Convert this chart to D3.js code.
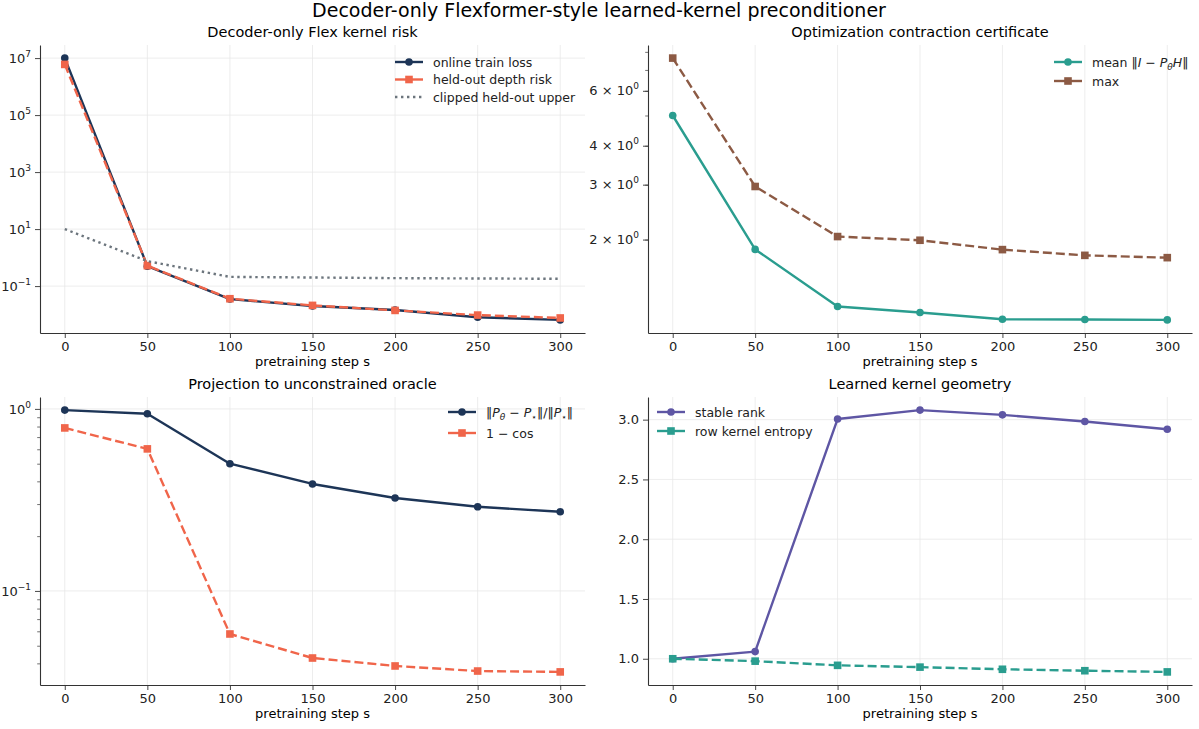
<!DOCTYPE html>
<html>
<head>
<meta charset="utf-8">
<script src="https://cdn.jsdelivr.net/npm/d3@7"></script>
<style>
  body { margin: 0; background: #fff; }
  svg { font-family: "DejaVu Sans", sans-serif; }
</style>
</head>
<body>
<div id="chart"></div>
<script>
// values
const steps = [0, 50, 100, 150, 200, 250, 300];
const trainLoss = [1.0e7, 0.50, 0.035, 0.020, 0.0145, 0.0081, 0.0065];
const heldOutRisk = [6.0e6, 0.52, 0.036, 0.021, 0.014, 0.0096, 0.0076];
const clippedUpper = [10, 0.75, 0.21, 0.20, 0.19, 0.185, 0.18];
const meanContraction = [5.0, 1.86, 1.22, 1.167, 1.11, 1.108, 1.105];
const maxContraction = [7.64, 2.96, 2.045, 1.99, 1.857, 1.78, 1.75];
const projRelErr = [0.985, 0.94, 0.50, 0.387, 0.324, 0.29, 0.272];
const oneMinusCos = [0.786, 0.603, 0.058, 0.0428, 0.0387, 0.0363, 0.0359];
const stableRank = [1.0, 1.06, 3.005, 3.08, 3.04, 2.985, 2.92];
const rowEntropy = [1.0, 0.98, 0.945, 0.93, 0.912, 0.90, 0.89];

const riskTicks = [1e-1, 1e1, 1e3, 1e5, 1e7];
const contractionTicks = [2, 3, 4, 6];
const contractionMinor = [2, 3, 4, 5, 6, 7, 8, 9];
const projTicks = [0.1, 1];
const projMinor = [0.02, 0.03, 0.04, 0.05, 0.06, 0.07, 0.08, 0.09, 0.2, 0.3, 0.4, 0.5, 0.6, 0.7, 0.8, 0.9];
const geomTicks = [1.0, 1.5, 2.0, 2.5, 3.0];

const navy = '#1d3557', coral = '#f0654a', grey = '#6c757d',
      teal = '#2a9d8f', brown = '#8c5a44', purple = '#5e56a4';
const dashed = '9,4';

const W = 1199, H = 729;
const svg = d3.select('#chart').append('svg').attr('width', W).attr('height', H);

svg.append('text')
  .attr('x', 599).attr('y', 17)
  .attr('text-anchor', 'middle')
  .style('font-size', '19px')
  .text('Decoder-only Flexformer-style learned-kernel preconditioner');

function pow10Label(sel, v) {
  const e = Math.round(Math.log10(v));
  sel.text('10');
  sel.append('tspan').attr('dy', -6).style('font-size', '9px')
    .text(String(e).replace('-', '\u2212'));
}
function multLabel(sel, v) {
  sel.text(v + ' \u00d7 10');
  sel.append('tspan').attr('dy', -6).style('font-size', '9px').text('0');
}

function panel(opt) {
  const g = svg.append('g').attr('transform', `translate(${opt.x},${opt.y})`);
  const w = opt.w, h = opt.h;

  const x = d3.scaleLinear().domain([-15, 315]).range([0, w]);
  const all = opt.series.flatMap(s => s.values);
  let y;
  if (opt.log) {
    const lo = Math.log10(d3.min(all)), hi = Math.log10(d3.max(all));
    const pad = (hi - lo) * 0.05;
    y = d3.scaleLog().domain([10 ** (lo - pad), 10 ** (hi + pad)]).range([h, 0]);
  } else {
    const [lo, hi] = d3.extent(all);
    const pad = (hi - lo) * 0.05;
    y = d3.scaleLinear().domain([lo - pad, hi + pad]).range([h, 0]);
  }

  // grid
  g.selectAll('.vgrid').data(steps).enter().append('line')
    .attr('x1', d => x(d)).attr('x2', d => x(d))
    .attr('y1', 0).attr('y2', h)
    .attr('stroke', '#e8e8e8').attr('stroke-width', 0.8);
  g.selectAll('.hgrid').data(opt.gridTicks).enter().append('line')
    .attr('x1', 0).attr('x2', w)
    .attr('y1', d => y(d)).attr('y2', d => y(d))
    .attr('stroke', '#e8e8e8').attr('stroke-width', 0.8);

  // axes
  const xAxis = g.append('g').attr('transform', `translate(0,${h})`)
    .call(d3.axisBottom(x).tickValues(steps).tickSize(5).tickSizeOuter(0).tickPadding(4).tickFormat(d3.format('d')));
  const yAxis = g.append('g')
    .call(d3.axisLeft(y).tickValues(opt.yTicks).tickSize(5).tickSizeOuter(0).tickPadding(4).tickFormat(''));
  if (opt.minor) {
    g.append('g').call(d3.axisLeft(y).tickValues(opt.minor.filter(v => y(v) >= 0 && y(v) <= h)).tickSize(2.8).tickSizeOuter(0).tickFormat(''))
      .call(a => a.select('.domain').remove())
      .selectAll('line').attr('stroke', '#333').attr('stroke-width', 0.7);
  }
  [xAxis, yAxis].forEach(a => {
    a.select('.domain').attr('stroke', '#333').attr('stroke-width', 1.1);
    a.selectAll('.tick line').attr('stroke', '#333').attr('stroke-width', 0.9);
    a.selectAll('text').style('font-size', '13px').attr('fill', '#222')
      .style('font-family', '"DejaVu Sans", sans-serif');
  });
  yAxis.selectAll('.tick text').each(function (d) {
    const t = d3.select(this);
    if (opt.labelFn) opt.labelFn(t, d); else t.text(opt.fmt(d));
  });

  g.append('text').attr('x', w / 2).attr('y', -8).attr('text-anchor', 'middle')
    .style('font-size', '14.5px').text(opt.title);
  g.append('text').attr('x', w / 2).attr('y', h + 33).attr('text-anchor', 'middle')
    .style('font-size', '13px').text('pretraining step s');

  const line = d3.line().x((d, i) => x(steps[i])).y(d => y(d));
  opt.series.forEach(s => {
    g.append('path').datum(s.values)
      .attr('d', line).attr('fill', 'none')
      .attr('stroke', s.color).attr('stroke-width', 2.4)
      .attr('stroke-dasharray', s.dash || null)
      .attr('stroke-linejoin', 'round');
    if (s.marker === 'circle') {
      g.selectAll(null).data(s.values).enter().append('circle')
        .attr('cx', (d, i) => x(steps[i])).attr('cy', d => y(d))
        .attr('r', 3.8).attr('fill', s.color);
    } else if (s.marker === 'square') {
      g.selectAll(null).data(s.values).enter().append('rect')
        .attr('x', (d, i) => x(steps[i]) - 3.8).attr('y', d => y(d) - 3.8)
        .attr('width', 7.6).attr('height', 7.6).attr('fill', s.color);
    }
  });

  // legend
  const lg = g.append('g').attr('transform', `translate(${opt.legend.x},${opt.legend.y})`);
  opt.series.forEach((s, i) => {
    const row = lg.append('g').attr('transform', `translate(0,${i * opt.legend.gap})`);
    row.append('line').attr('x1', 0).attr('x2', 28).attr('y1', 0).attr('y2', 0)
      .attr('stroke', s.color).attr('stroke-width', 2.4)
      .attr('stroke-dasharray', s.dash === dashed ? null : (s.dash || null));
    if (s.marker === 'circle') row.append('circle').attr('cx', 14).attr('r', 3.8).attr('fill', s.color);
    if (s.marker === 'square') row.append('rect').attr('x', 10.2).attr('y', -3.8).attr('width', 7.6).attr('height', 7.6).attr('fill', s.color);
    const t = row.append('text').attr('x', 38).attr('y', 4.5).style('font-size', '12.5px').attr('fill', '#222');
    if (s.label) t.text(s.label); else s.labelFn(t);
  });
}

// label pieces: plain, italic, subscript
function rich(t, parts) {
  let shift = 0;
  parts.forEach(p => {
    const sp = t.append('tspan').text(p.s);
    const target = p.sub ? 3.5 : 0;
    if (target !== shift) { sp.attr('dy', target - shift); shift = target; }
    if (p.it) sp.style('font-style', 'italic');
    if (p.sub) sp.style('font-size', '9px');
  });
}

panel({
  x: 40, y: 45, w: 545, h: 288, log: true,
  title: 'Decoder-only Flex kernel risk',
  yTicks: riskTicks, gridTicks: riskTicks, labelFn: pow10Label,
  legend: { x: 355, y: 17, gap: 17.5 },
  series: [
    { values: trainLoss, color: navy, marker: 'circle', label: 'online train loss' },
    { values: heldOutRisk, color: coral, marker: 'square', dash: dashed, label: 'held-out depth risk' },
    { values: clippedUpper, color: grey, dash: '2.4,3.6', label: 'clipped held-out upper' }
  ]
});

panel({
  x: 648, y: 45, w: 544, h: 288, log: true,
  title: 'Optimization contraction certificate',
  yTicks: contractionTicks, gridTicks: [], minor: contractionMinor, labelFn: multLabel,
  legend: { x: 406, y: 17, gap: 19 },
  series: [
    { values: meanContraction, color: teal, marker: 'circle',
      labelFn: t => rich(t, [{ s: 'mean \u2016' }, { s: 'I', it: 1 }, { s: ' \u2212 ' }, { s: 'P', it: 1 },
        { s: '\u03b8', it: 1, sub: 1 }, { s: 'H', it: 1 }, { s: '\u2016' }]) },
    { values: maxContraction, color: brown, marker: 'square', dash: dashed, label: 'max' }
  ]
});

panel({
  x: 40, y: 397, w: 545, h: 288, log: true,
  title: 'Projection to unconstrained oracle',
  yTicks: projTicks, gridTicks: projTicks, minor: projMinor, labelFn: pow10Label,
  legend: { x: 408, y: 15, gap: 21 },
  series: [
    { values: projRelErr, color: navy, marker: 'circle',
      labelFn: t => rich(t, [{ s: '\u2016' }, { s: 'P', it: 1 }, { s: '\u03b8', it: 1, sub: 1 }, { s: ' \u2212 ' },
        { s: 'P', it: 1 }, { s: '\u22c6', sub: 1 }, { s: '\u2016/\u2016' }, { s: 'P', it: 1 }, { s: '\u22c6', sub: 1 }, { s: '\u2016' }]) },
    { values: oneMinusCos, color: coral, marker: 'square', dash: dashed, label: '1 \u2212 cos' }
  ]
});

panel({
  x: 648, y: 397, w: 544, h: 288, log: false,
  title: 'Learned kernel geometry',
  yTicks: geomTicks, gridTicks: geomTicks, fmt: d3.format('.1f'),
  legend: { x: 9, y: 15, gap: 19 },
  series: [
    { values: stableRank, color: purple, marker: 'circle', label: 'stable rank' },
    { values: rowEntropy, color: teal, marker: 'square', dash: dashed, label: 'row kernel entropy' }
  ]
});
</script>
</body>
</html>
